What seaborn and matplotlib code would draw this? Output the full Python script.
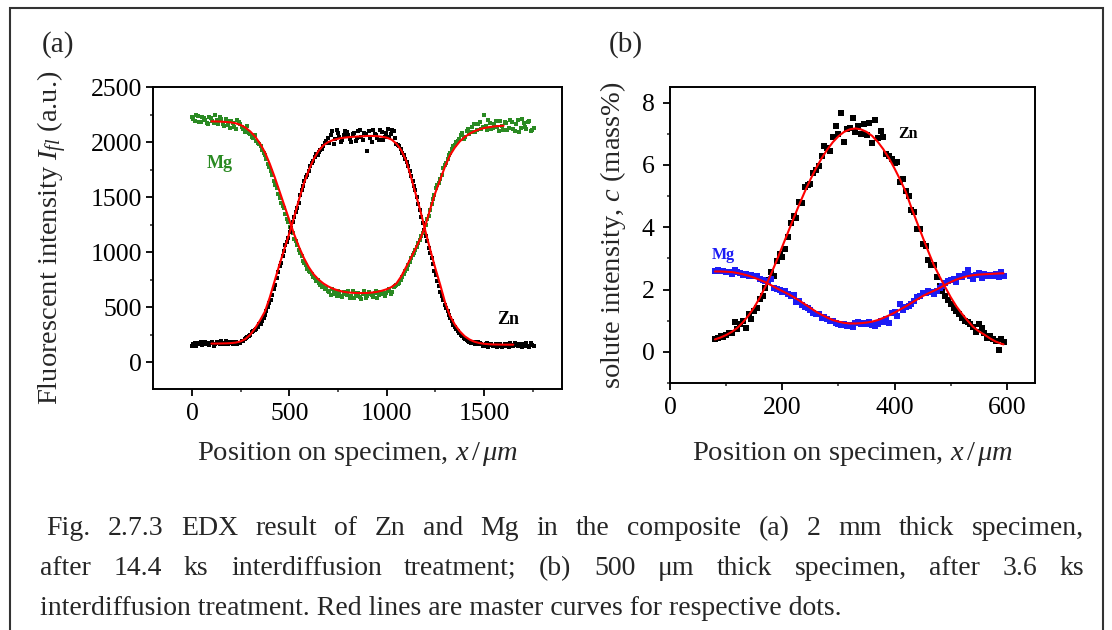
import numpy as np
import pandas as pd
import matplotlib
matplotlib.use("Agg")
import matplotlib.pyplot as plt
import seaborn as sns
from matplotlib.ticker import MultipleLocator
from matplotlib.patches import Rectangle

# ---------------- data: panel (a) ----------------
x_a = [0, 15, 30, 45, 60, 75, 90, 105, 120, 135, 150, 165, 180, 195, 210, 225, 240, 255, 270, 285,
       300, 315, 330, 345, 360, 375, 390, 405, 420, 435, 450, 465, 480, 495, 510, 525, 540, 555, 570, 585,
       600, 615, 630, 645, 660, 675, 690, 705, 720, 735, 750, 765, 780, 795, 810, 825, 840, 855, 870, 885,
       900, 915, 930, 945, 960, 975, 990, 1005, 1020, 1035, 1050, 1065, 1080, 1095, 1110, 1125, 1140, 1155, 1170, 1185,
       1200, 1215, 1230, 1245, 1260, 1275, 1290, 1305, 1320, 1335, 1350, 1365, 1380, 1395, 1410, 1425, 1440, 1455, 1470, 1485,
       1500, 1515, 1530, 1545, 1560, 1575, 1590, 1605, 1620, 1635, 1650, 1665, 1680, 1695, 1710, 1725, 1740, 1755]
mg_a = [2230, 2195, 2240, 2180, 2215, 2170, 2225, 2190, 2245, 2160, 2205, 2150, 2195, 2130, 2175, 2120, 2185, 2140, 2095, 2150,
        2070, 2035, 2010, 1985, 1930, 1880, 1800, 1740, 1650, 1580, 1490, 1420, 1350, 1270, 1200, 1120, 1060, 990, 920, 880,
        830, 800, 760, 745, 700, 690, 670, 640, 660, 620, 650, 600, 640, 610, 580, 645, 600, 625, 570, 650,
        600, 620, 590, 645, 610, 630, 600, 650, 620, 680, 700, 720, 770, 830, 880, 950, 990, 1050, 1110, 1170,
        1250, 1330, 1440, 1520, 1610, 1660, 1760, 1810, 1880, 1940, 1970, 2010, 2060, 2030, 2100, 2070, 2140, 2090, 2160, 2120,
        2250, 2110, 2170, 2130, 2190, 2100, 2150, 2180, 2110, 2200, 2120, 2165, 2090, 2210, 2140, 2180, 2100, 2130]
zn_a = [150, 170, 160, 180, 165, 175, 155, 185, 165, 170, 195, 160, 175, 185, 165, 180, 170, 190, 210, 230,
        250, 285, 300, 345, 370, 430, 500, 560, 660, 760, 870, 960, 1060, 1130, 1220, 1320, 1400, 1520, 1600, 1680,
        1740, 1810, 1860, 1880, 1930, 1960, 2010, 1990, 2100, 2030, 2080, 2000, 2060, 2090, 2030, 2070, 2010, 2100, 2050, 2080,
        1920, 2040, 2110, 2060, 2020, 2090, 2050, 2120, 2070, 2100, 1980, 1960, 1900, 1850, 1780, 1690, 1600, 1500, 1380, 1260,
        1150, 1040, 950, 830, 740, 640, 560, 490, 430, 370, 320, 280, 250, 220, 200, 185, 175, 165, 180, 160,
        150, 170, 155, 145, 165, 150, 140, 160, 150, 170, 145, 155, 165, 140, 160, 150, 175, 145]

# second, interleaved scan of panel (a)
x_a2 = [7.5, 22.5, 37.5, 52.5, 67.5, 82.5, 97.5, 112.5, 127.5, 142.5, 157.5, 172.5, 187.5, 202.5, 217.5, 232.5, 247.5, 262.5, 277.5, 292.5,
        307.5, 322.5, 337.5, 352.5, 367.5, 382.5, 397.5, 412.5, 427.5, 442.5, 457.5, 472.5, 487.5, 502.5, 517.5, 532.5, 547.5, 562.5, 577.5, 592.5,
        607.5, 622.5, 637.5, 652.5, 667.5, 682.5, 697.5, 712.5, 727.5, 742.5, 757.5, 772.5, 787.5, 802.5, 817.5, 832.5, 847.5, 862.5, 877.5, 892.5,
        907.5, 922.5, 937.5, 952.5, 967.5, 982.5, 997.5, 1012.5, 1027.5, 1042.5, 1057.5, 1072.5, 1087.5, 1102.5, 1117.5, 1132.5, 1147.5, 1162.5, 1177.5, 1192.5,
        1207.5, 1222.5, 1237.5, 1252.5, 1267.5, 1282.5, 1297.5, 1312.5, 1327.5, 1342.5, 1357.5, 1372.5, 1387.5, 1402.5, 1417.5, 1432.5, 1447.5, 1462.5, 1477.5, 1492.5,
        1507.5, 1522.5, 1537.5, 1552.5, 1567.5, 1582.5, 1597.5, 1612.5, 1627.5, 1642.5, 1657.5, 1672.5, 1687.5, 1702.5, 1717.5, 1732.5, 1747.5]
mg_a2 = [2205, 2250, 2185, 2230, 2200, 2160, 2215, 2175, 2200, 2230, 2165, 2210, 2155, 2190, 2140, 2200, 2160, 2120, 2110, 2080,
         2050, 2060, 1990, 1960, 1900, 1850, 1770, 1700, 1610, 1530, 1450, 1400, 1300, 1230, 1170, 1100, 1020, 960, 900, 850,
         820, 770, 740, 720, 680, 660, 650, 610, 640, 600, 630, 590, 620, 650, 600, 580, 630, 595, 615, 585,
         640, 605, 625, 580, 640, 615, 630, 660, 640, 690, 710, 750, 800, 850, 910, 970, 1020, 1080, 1150, 1200,
         1300, 1380, 1480, 1580, 1630, 1700, 1790, 1850, 1900, 1960, 2000, 2030, 2080, 2050, 2120, 2090, 2160, 2110, 2180, 2140,
         2150, 2200, 2120, 2160, 2140, 2190, 2110, 2170, 2130, 2180, 2100, 2200, 2130, 2170, 2120, 2190, 2110]
zn_a2 = [160, 150, 175, 155, 185, 160, 170, 150, 180, 160, 175, 190, 160, 170, 185, 160, 175, 195, 220, 240,
         270, 290, 320, 350, 400, 460, 540, 610, 700, 820, 900, 1010, 1090, 1180, 1270, 1360, 1450, 1560, 1650, 1700,
         1780, 1830, 1890, 1910, 1940, 1990, 2040, 2060, 1980, 2110, 2050, 2020, 2100, 2060, 2000, 2080, 2040, 2110, 2020, 2070,
         2100, 2000, 2070, 2040, 2110, 2020, 2080, 2050, 2110, 2040, 1970, 1940, 1880, 1820, 1740, 1650, 1560, 1440, 1320, 1200,
         1100, 990, 890, 790, 690, 600, 520, 460, 400, 340, 300, 265, 235, 210, 195, 170, 185, 160, 170, 150,
         165, 140, 160, 150, 135, 160, 145, 165, 140, 155, 170, 145, 160, 150, 170, 140, 155]

xc_mg_a = [100, 125, 150, 175, 200, 225, 250, 275, 300, 325, 350, 375, 400, 425, 450, 475, 500, 525, 550, 575,
           600, 625, 650, 675, 700, 725, 750, 775, 800, 825, 850, 875, 900, 925, 950, 975, 1000, 1025, 1050, 1075,
           1100, 1125, 1150, 1175, 1200, 1225, 1250, 1275, 1300, 1325, 1350, 1375, 1400, 1425, 1450, 1475, 1500, 1525, 1550, 1575,
           1600]
yc_mg_a = [2188, 2187, 2185, 2182, 2178, 2170, 2155, 2130, 2095, 2048, 1985, 1905, 1800, 1680, 1550, 1420, 1290, 1160, 1045, 945,
           862, 797, 750, 714, 687, 666, 651, 640, 633, 629, 627, 627, 628, 632, 638, 648, 662, 682, 715, 780,
           865, 950, 1040, 1130, 1250, 1400, 1540, 1660, 1780, 1880, 1950, 2005, 2045, 2075, 2098, 2115, 2127, 2135, 2141, 2145,
           2148]
xc_zn_a = [100, 125, 150, 175, 200, 225, 250, 275, 300, 325, 350, 375, 400, 425, 450, 475, 500, 525, 550, 575,
           600, 625, 650, 675, 700, 725, 750, 775, 800, 825, 850, 875, 900, 925, 950, 975, 1000, 1025, 1050, 1075,
           1100, 1125, 1150, 1175, 1200, 1225, 1250, 1275, 1300, 1325, 1350, 1375, 1400, 1425, 1450, 1475, 1500, 1525, 1550, 1575,
           1600, 1625, 1650]
yc_zn_a = [168, 168, 169, 170, 172, 177, 188, 210, 250, 310, 380, 460, 590, 740, 890, 1030, 1170, 1320, 1480, 1625,
           1745, 1845, 1920, 1970, 2000, 2018, 2030, 2038, 2043, 2047, 2050, 2052, 2055, 2055, 2053, 2048, 2040, 2022, 1985, 1925,
           1830, 1680, 1520, 1360, 1180, 1010, 850, 700, 540, 420, 340, 280, 235, 205, 185, 173, 166, 162, 160, 159,
           158, 158, 158]

# ---------------- data: panel (b) ----------------
x_b = [80, 85, 90, 95, 100, 105, 110, 115, 120, 125, 130, 135, 140, 145, 150, 155, 160, 165, 170, 175,
       180, 185, 190, 195, 200, 205, 210, 215, 220, 225, 230, 235, 240, 245, 250, 255, 260, 265, 270, 275,
       280, 285, 290, 295, 300, 305, 310, 315, 320, 325, 330, 335, 340, 345, 350, 355, 360, 365, 370, 375,
       380, 385, 390, 395, 400, 405, 410, 415, 420, 425, 430, 435, 440, 445, 450, 455, 460, 465, 470, 475,
       480, 485, 490, 495, 500, 505, 510, 515, 520, 525, 530, 535, 540, 545, 550, 555, 560, 565, 570, 575,
       580, 585, 590, 595]
zn_b = [0.40, 0.45, 0.50, 0.48, 0.55, 0.62, 0.60, 0.95, 0.72, 0.88, 0.98, 0.78, 1.22, 1.05, 1.30, 1.40, 1.70, 1.80, 2.05, 2.30,
        2.55, 2.45, 2.90, 3.15, 3.05, 3.30, 3.70, 4.15, 4.35, 4.30, 4.80, 4.78, 5.30, 5.35, 5.40, 5.75, 5.85, 5.95, 6.30, 6.60,
        6.55, 6.45, 6.90, 7.25, 7.00, 7.65, 6.75, 7.15, 7.20, 7.50, 7.05, 7.25, 7.00, 7.30, 6.95, 7.35, 6.70, 7.45, 6.85, 7.10,
        6.90, 6.35, 6.30, 6.20, 6.05, 6.10, 5.45, 5.55, 5.15, 5.00, 4.55, 4.50, 3.95, 3.95, 3.45, 3.40, 2.95, 2.80, 2.78, 2.40,
        2.10, 1.95, 1.80, 1.65, 1.55, 1.40, 1.30, 1.20, 1.10, 1.00, 0.95, 0.90, 0.80, 0.65, 0.90, 0.75, 0.60, 0.45, 0.50, 0.40,
        0.35, 0.05, 0.40, 0.30]
mg_b = [2.60, 2.62, 2.58, 2.60, 2.55, 2.57, 2.50, 2.62, 2.55, 2.52, 2.48, 2.50, 2.45, 2.47, 2.42, 2.44, 2.35, 2.30, 2.28, 2.25,
        2.35, 2.05, 2.02, 1.98, 1.92, 1.95, 1.85, 1.78, 1.82, 1.60, 1.62, 1.50, 1.45, 1.40, 1.35, 1.25, 1.20, 1.22, 1.10, 1.12,
        1.05, 0.98, 1.00, 0.92, 0.90, 0.85, 0.88, 0.82, 0.85, 0.80, 0.92, 0.95, 0.90, 0.92, 0.88, 0.95, 0.85, 0.82, 0.90, 1.00,
        0.95, 1.05, 0.92, 1.25, 1.28, 1.15, 1.55, 1.35, 1.45, 1.48, 1.55, 1.62, 1.75, 1.80, 1.88, 1.90, 1.95, 1.92, 1.85, 1.95,
        2.05, 2.10, 2.20, 2.28, 2.30, 2.35, 2.25, 2.45, 2.40, 2.50, 2.62, 2.42, 2.35, 2.48, 2.52, 2.38, 2.50, 2.45, 2.48, 2.42,
        2.50, 2.40, 2.55, 2.45]

xc_b = [80, 90, 100, 110, 120, 130, 140, 150, 160, 170, 180, 190, 200, 210, 220, 230, 240, 250, 260, 270,
        280, 290, 300, 310, 320, 330, 340, 350, 360, 370, 380, 390, 400, 410, 420, 430, 440, 450, 460, 470,
        480, 490, 500, 510, 520, 530, 540, 550, 560, 570, 580, 590, 594]
yc_zn_b = [0.40, 0.46, 0.54, 0.64, 0.77, 0.95, 1.17, 1.43, 1.74, 2.10, 2.50, 2.93, 3.38, 3.83, 4.28, 4.72, 5.14, 5.53, 5.89, 6.21,
           6.49, 6.73, 6.92, 7.06, 7.14, 7.17, 7.14, 7.06, 6.93, 6.74, 6.50, 6.21, 5.88, 5.52, 5.13, 4.62, 4.15, 3.68, 3.22, 2.78,
           2.42, 2.08, 1.75, 1.46, 1.22, 1.00, 0.80, 0.66, 0.55, 0.43, 0.33, 0.26, 0.24]
yc_mg_b = [2.58, 2.58, 2.57, 2.56, 2.53, 2.49, 2.44, 2.38, 2.31, 2.23, 2.14, 2.04, 1.95, 1.86, 1.76, 1.65, 1.53, 1.41, 1.29, 1.19,
           1.10, 1.02, 0.97, 0.93, 0.91, 0.91, 0.92, 0.94, 0.97, 1.02, 1.09, 1.17, 1.26, 1.36, 1.46, 1.57, 1.68, 1.79, 1.88, 1.96,
           2.05, 2.15, 2.24, 2.32, 2.38, 2.43, 2.46, 2.48, 2.49, 2.50, 2.51, 2.52, 2.52]

assert len(x_a) == len(mg_a) == len(zn_a)
assert len(x_a2) == len(mg_a2) == len(zn_a2)
assert len(xc_mg_a) == len(yc_mg_a) and len(xc_zn_a) == len(yc_zn_a)
assert len(x_b) == len(zn_b) == len(mg_b)
assert len(xc_b) == len(yc_zn_b) == len(yc_mg_b)

caption_lines = [
    "Fig. 2.7.3 EDX result of Zn and Mg in the composite (a) 2 mm thick specimen,",
    "after 14.4 ks interdiffusion treatment; (b) 500 \u03bcm thick specimen, after 3.6 ks",
    "interdiffusion treatment. Red lines are master curves for respective dots.",
]

# ---------------- style ----------------
sns.set_style("ticks")
plt.rcParams['font.family'] = ['Liberation Serif', 'DejaVu Serif']
plt.rcParams['mathtext.fontset'] = 'custom'
plt.rcParams['mathtext.rm'] = 'Liberation Serif'
plt.rcParams['mathtext.it'] = 'Liberation Serif:italic'
plt.rcParams['mathtext.bf'] = 'Liberation Serif:bold'

W, H = 1112, 630
fig = plt.figure(figsize=(W / 100, H / 100), dpi=100)
fig.patch.set_facecolor('white')

def ax_rect(l, t, r, b):
    return [l / W, 1 - b / H, (r - l) / W, (b - t) / H]

axA = fig.add_axes(ax_rect(153, 87, 562, 389))
axB = fig.add_axes(ax_rect(670, 87, 1035, 383))

GREEN = '#2a8a22'
BLUE = '#1c1cf5'
RED = '#ff0000'
TICK_FS = 18.5
LAB_FS = 20.5

# panel (a)
for xs, ys, col in ((x_a, mg_a, GREEN), (x_a2, mg_a2, GREEN), (x_a, zn_a, 'black'), (x_a2, zn_a2, 'black')):
    sns.scatterplot(x=xs, y=ys, ax=axA, color=col, marker='s', s=12, linewidth=0, legend=False)
sns.lineplot(x=xc_mg_a, y=yc_mg_a, ax=axA, color=RED, linewidth=1.5, legend=False)
sns.lineplot(x=xc_zn_a, y=yc_zn_a, ax=axA, color=RED, linewidth=1.5, legend=False)
axA.set_xlim(-200, 1900)
axA.set_ylim(-245, 2500)
axA.set_xticks([0, 500, 1000, 1500])
axA.set_yticks([0, 500, 1000, 1500, 2000, 2500])
axA.xaxis.set_minor_locator(MultipleLocator(250))
axA.yaxis.set_minor_locator(MultipleLocator(250))
axA.text(144, 1809, 'Mg', color=GREEN, fontsize=13, fontweight='bold', ha='center', va='center')
axA.text(1624, 391, 'Zn', color='black', fontsize=13, fontweight='bold', ha='center', va='center')
axA.set_xlabel(r"Position on specimen, $x\,/\,\mu m$", fontsize=LAB_FS, va='center')
axA.set_ylabel(r"Fluorescent intensity $I_{fl}$ (a.u.)", fontsize=LAB_FS, va='center')
axA.xaxis.set_label_coords(0.5, (389 - 454) / 302)
axA.yaxis.set_label_coords((52 - 153) / 409, 0.5)

# panel (b)
sns.scatterplot(x=x_b, y=zn_b, ax=axB, color='black', marker='s', s=14, linewidth=0, legend=False)
sns.scatterplot(x=x_b, y=mg_b, ax=axB, color=BLUE, marker='s', s=14, linewidth=0, legend=False)
sns.lineplot(x=xc_b, y=yc_zn_b, ax=axB, color=RED, linewidth=1.5, legend=False)
sns.lineplot(x=xc_b, y=yc_mg_b, ax=axB, color=RED, linewidth=1.5, legend=False)
axB.set_xlim(0, 650)
axB.set_ylim(-1, 8.5)
axB.set_xticks([0, 200, 400, 600])
axB.set_yticks([0, 2, 4, 6, 8])
axB.xaxis.set_minor_locator(MultipleLocator(100))
axB.yaxis.set_minor_locator(MultipleLocator(1))
axB.text(94, 3.11, 'Mg', color=BLUE, fontsize=11.5, fontweight='bold', ha='center', va='center')
axB.text(424, 6.99, 'Zn', color='black', fontsize=11.5, fontweight='bold', ha='center', va='center')
axB.set_xlabel(r"Position on specimen, $x\,/\,\mu m$", fontsize=LAB_FS, va='center')
axB.set_ylabel(r"solute intensity, $c$ (mass%)", fontsize=LAB_FS, va='center')
axB.xaxis.set_label_coords(0.5, (383 - 454) / 296)
axB.yaxis.set_label_coords((613 - 670) / 365, 0.5)

for ax, ypad in ((axA, 3), (axB, 6)):
    for sp in ax.spines.values():
        sp.set_visible(True)
        sp.set_linewidth(1.4)
        sp.set_color('black')
    ax.tick_params(axis='both', which='major', direction='out', length=5, width=1.3,
                   labelsize=TICK_FS, color='black', labelcolor='black', top=False, right=False)
    ax.tick_params(axis='both', which='minor', direction='out', length=2.5, width=1.1,
                   top=False, right=False)
    ax.tick_params(axis='x', which='major', pad=5)
    ax.tick_params(axis='y', which='major', pad=ypad)
    ax.set_facecolor('white')
    ax.grid(False)

# panel labels
fig.text(58 / W, 1 - 45 / H, '(a)', fontsize=21, ha='center', va='center')
fig.text(626 / W, 1 - 45 / H, '(b)', fontsize=21, ha='center', va='center')

# caption with justified lines
CAP_FS = 20
renderer = fig.canvas.get_renderer()

def place_line(text, x0, x1, y_base, justify):
    words = text.split(' ')
    if not justify:
        fig.text(x0 / W, 1 - y_base / H, text, fontsize=CAP_FS, ha='left', va='baseline')
        return
    objs = [fig.text(0, 1 - y_base / H, w, fontsize=CAP_FS, ha='left', va='baseline') for w in words]
    widths = [o.get_window_extent(renderer).width for o in objs]
    gap = (x1 - x0 - sum(widths)) / (len(words) - 1)
    pos = x0
    for o, w in zip(objs, widths):
        o.set_x(pos / W)
        pos += w + gap

place_line(caption_lines[0], 46, 1084, 535, True)
place_line(caption_lines[1], 40, 1084, 575, True)
place_line(caption_lines[2], 40, 1084, 615, False)

# outer frame (bottom edge falls outside the image)
fig.add_artist(Rectangle((10 / W, -0.05), 1093 / W, (1 - 8 / H) + 0.05, transform=fig.transFigure,
                         fill=False, edgecolor='#333333', linewidth=1.5))

fig.savefig('out.png', dpi=100)
